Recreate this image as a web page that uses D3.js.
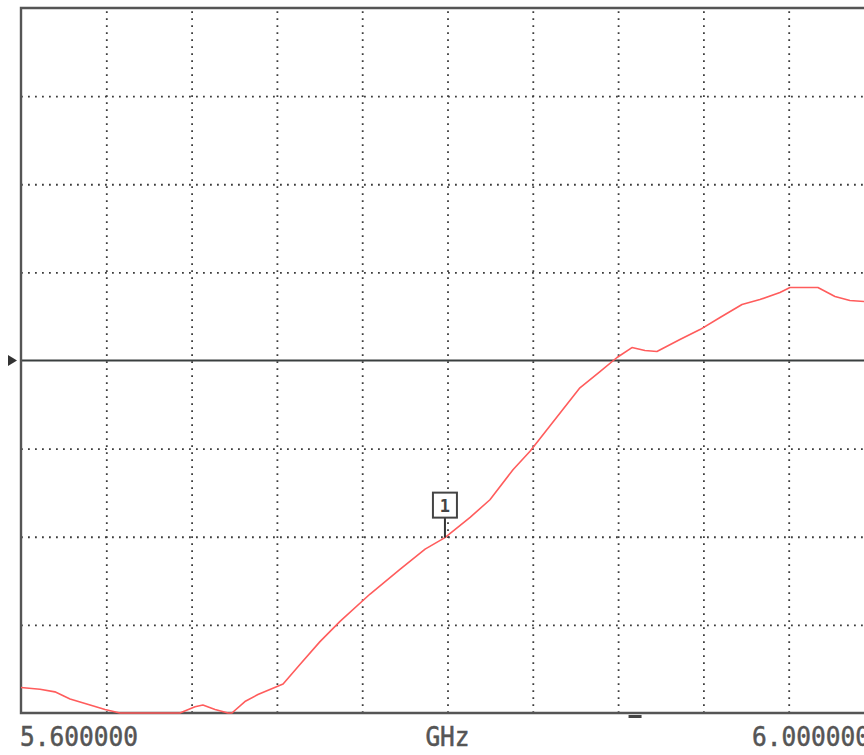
<!DOCTYPE html>
<html><head><meta charset="utf-8">
<script src="https://cdn.jsdelivr.net/npm/d3@7"></script>
<style>
html,body{margin:0;padding:0;background:#fff;}
svg{display:block;}
</style></head>
<body>
<svg id="c" width="864" height="755"></svg>
<script>
// Data (frequency in GHz, response in dB, 10 dB/div, reference 0 dB at centre)
const freqs = [5.6000,5.6089,5.6159,5.6230,5.6324,5.6394,5.6464,5.6558,5.6652,5.6745,5.6816,5.6853,5.6910,5.6971,5.6989,5.7050,5.7111,5.7229,5.7308,5.7402,5.7496,5.7637,5.7777,5.7895,5.7988,5.8106,5.8199,5.8307,5.8387,5.8504,5.8621,5.8715,5.8795,5.8865,5.8926,5.8982,5.9090,5.9184,5.9278,5.9381,5.9465,5.9559,5.9606,5.9737,5.9817,5.9887,5.9953,6.0000];
const values = [-37.1,-37.3,-37.6,-38.4,-39.1,-39.6,-40.2,-42,-43,-41,-39.3,-39.1,-39.6,-40.0,-40.5,-38.7,-37.9,-36.7,-34.5,-31.9,-29.6,-26.5,-23.7,-21.4,-20.1,-17.8,-15.8,-12.4,-10.3,-6.7,-3.1,-1.25,0.34,1.47,1.13,1.02,2.38,3.51,4.88,6.35,6.92,7.71,8.28,8.28,7.26,6.80,6.69,6.58];
const freqTicks = [5.60,5.64,5.68,5.72,5.76,5.80,5.84,5.88,5.92,5.96,6.00];
const levelTicks = [-40,-30,-20,-10,0,10,20,30,40];
const startLabel = "5.600000";
const stopLabel = "6.000000";
const unitLabel = "GHz";
const markerFreq = 5.7988;
const markerValue = -20.1;
const markerLabel = "1";
const refLevel = 0;

const svg = d3.select("#c");
const L = 21, R = 874, T = 8, B = 713;
const x = d3.scaleLinear().domain([5.6, 6.0]).range([L, R]);
const y = d3.scaleLinear().domain([-40, 40]).range([B, T]).clamp(true);

const gridColor = "#3c3c3c";
// vertical grid
svg.append("g").attr("transform", `translate(0,${B})`)
  .call(d3.axisBottom(x).tickValues(freqTicks.slice(1, -1)).tickSize(-(B - T)).tickFormat(""))
  .call(g => g.select(".domain").remove())
  .call(g => g.selectAll("line").attr("stroke", gridColor).attr("stroke-width", 1.8).attr("stroke-dasharray", "1.8,5.2"));
// horizontal grid
svg.append("g").attr("transform", `translate(${L},0)`)
  .call(d3.axisLeft(y).tickValues(levelTicks.slice(1, -1).filter(v => v !== refLevel)).tickSize(-(R - L)).tickFormat(""))
  .call(g => g.select(".domain").remove())
  .call(g => g.selectAll("line").attr("stroke", gridColor).attr("stroke-width", 1.8).attr("stroke-dasharray", "1.8,5.2"));

// reference line
svg.append("line").attr("x1", L).attr("x2", R).attr("y1", y(refLevel)).attr("y2", y(refLevel))
  .attr("stroke", "#3a3f3f").attr("stroke-width", 2.2);
// reference arrow
const ry = y(refLevel);
svg.append("path").attr("d", `M8,${ry-5.5}L17,${ry}L8,${ry+5.5}Z`).attr("fill", "#333");

// frame (left, top, bottom)
svg.append("path").attr("d", `M${R},${T}H${L}V${B}H${R}`).attr("fill", "none")
  .attr("stroke", "#555").attr("stroke-width", 2.4);

// trace
const pts = freqs.map((f, i) => [f, values[i]]);
svg.append("path").datum(pts)
  .attr("d", d3.line().x(d => x(d[0])).y(d => y(d[1])))
  .attr("fill", "none").attr("stroke", "#ff5c5c").attr("stroke-width", 1.6).attr("stroke-linejoin", "round");

// marker
const mx = x(markerFreq), my = y(markerValue);
svg.append("line").attr("x1", mx).attr("x2", mx).attr("y1", my).attr("y2", my - 20).attr("stroke", "#333").attr("stroke-width", 2);
svg.append("rect").attr("x", mx - 12).attr("y", my - 45).attr("width", 24).attr("height", 25)
  .attr("fill", "#fff").attr("stroke", "#444").attr("stroke-width", 2);
svg.append("text").attr("x", mx).attr("y", my - 26).attr("text-anchor", "middle")
  .attr("font-family", "DejaVu Sans Mono").attr("font-size", 17).attr("font-weight", "bold").attr("fill", "#444").text(markerLabel);

// small indicator below axis
svg.append("rect").attr("x", x(5.8849)).attr("y", B + 2).attr("width", 13).attr("height", 3).attr("fill", "#444");

// labels
const lbl = (t, xx, anchor) => svg.append("text")
  .attr("transform", `translate(${xx},746) scale(1,1.12)`)
  .attr("text-anchor", anchor).attr("font-family", "DejaVu Sans Mono").attr("font-size", 24.5)
  .attr("fill", "#555").attr("stroke", "#555").attr("stroke-width", 0.5).text(t);
lbl(startLabel, 20, "start");
lbl(unitLabel, x(5.8), "middle");
lbl(stopLabel, 870, "end");
</script>
</body></html>
